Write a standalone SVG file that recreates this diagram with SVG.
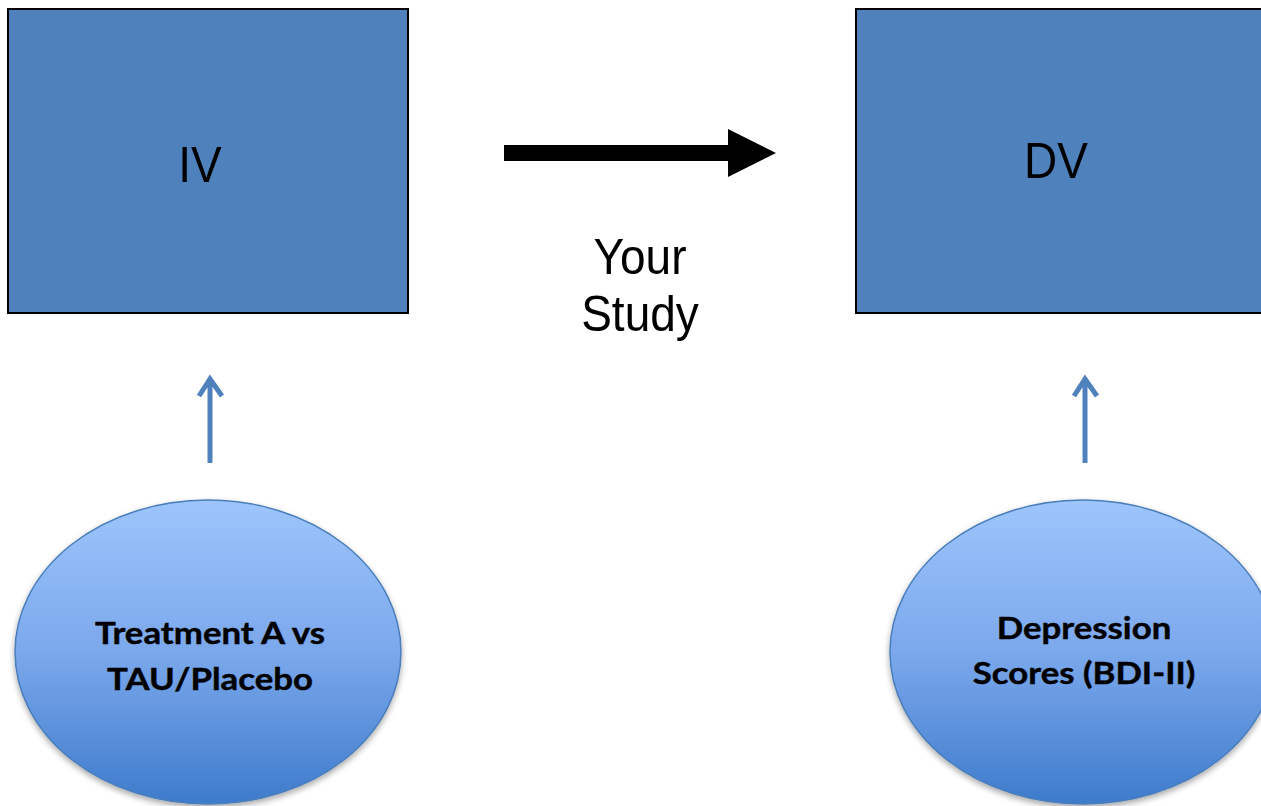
<svg xmlns="http://www.w3.org/2000/svg" width="1261" height="806" viewBox="0 0 1261 806">
<defs>
<linearGradient id="og" x1="0" y1="0" x2="0" y2="1">
<stop offset="0" stop-color="#9ec5fc"/>
<stop offset="0.5" stop-color="#7ba8ec"/>
<stop offset="1" stop-color="#3e7bcc"/>
</linearGradient>
<filter id="sh" x="-10%" y="-10%" width="120%" height="125%">
<feGaussianBlur in="SourceAlpha" stdDeviation="3"/>
<feOffset dx="0" dy="3" result="b"/>
<feComponentTransfer><feFuncA type="linear" slope="0.35"/></feComponentTransfer>
<feMerge><feMergeNode/><feMergeNode in="SourceGraphic"/></feMerge>
</filter>
</defs>
<style>
.box{fill:#4f81bd;stroke:#000;stroke-width:2}
.big{font-family:"Liberation Sans",Arial,sans-serif;font-size:46px;fill:#000;text-anchor:middle}
.oval{fill:url(#og);stroke:#4a7ebb;stroke-width:1.5;filter:url(#sh)}
.ot{font-family:Lato,"Open Sans",sans-serif;font-weight:bold;font-size:29px;fill:#000;text-anchor:middle;stroke:#000;stroke-width:0.4}
.sa{fill:none;stroke:#4f81bd;stroke-width:5}
</style>
<rect width="1261" height="806" fill="#fff"/>
<g id="iv">
<rect class="box" x="8" y="9" width="400" height="304"/>
<text class="big" transform="matrix(1,0,0,1.1,200,182)">IV</text>
</g>
<g id="dv">
<rect class="box" x="856" y="9" width="420" height="304"/>
<text class="big" transform="matrix(1,0,0,1.1,1056,178)">DV</text>
</g>
<g id="treatment">
<ellipse class="oval" cx="208" cy="652" rx="193" ry="152"/>
<text class="ot" transform="matrix(1.2,0,0,1.02,210,644)">Treatment A vs</text>
<text class="ot" transform="matrix(1.2,0,0,1.02,210,690)">TAU/Placebo</text>
</g>
<g id="depression">
<ellipse class="oval" cx="1083" cy="652" rx="193" ry="152"/>
<text class="ot" transform="matrix(1.2,0,0,1.02,1084,639)">Depression</text>
<text class="ot" transform="matrix(1.2,0,0,1.02,1084,684)">Scores (BDI-II)</text>
</g>
<g id="study-label">
<text class="big" transform="matrix(1,0,0,1.1,640,274)">Your</text>
<text class="big" transform="matrix(1,0,0,1.1,640,331)">Study</text>
</g>
<g id="connectors">
<polygon points="504,145 728,145 728,129 776,153 728,177 728,161 504,161" fill="#000"/>
<path class="sa" d="M210 463 V378 M199 396 L210 379 L222 396"/>
<path class="sa" d="M1085 463 V378 M1074 396 L1085 379 L1097 396"/>
</g>
</svg>
